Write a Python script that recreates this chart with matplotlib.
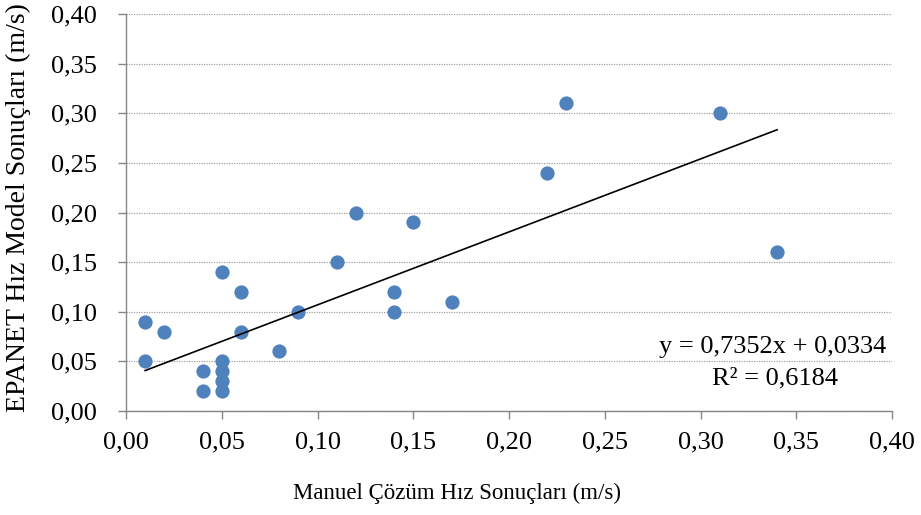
import matplotlib
matplotlib.use("Agg")
import matplotlib.pyplot as plt
import numpy as np
from matplotlib.ticker import FuncFormatter

manuel = [0.01, 0.01, 0.02, 0.04, 0.04, 0.05, 0.05, 0.05, 0.05, 0.05, 0.06, 0.06,
          0.08, 0.09, 0.11, 0.12, 0.14, 0.14, 0.15, 0.17, 0.22, 0.23, 0.31, 0.34]
epanet = [0.09, 0.05, 0.08, 0.04, 0.02, 0.14, 0.05, 0.04, 0.03, 0.02, 0.12, 0.08,
          0.06, 0.10, 0.15, 0.20, 0.12, 0.10, 0.19, 0.11, 0.24, 0.31, 0.30, 0.16]
slope = 0.7352
intercept = 0.0334
r2_text = "R² = 0,6184"
eq_text = "y = 0,7352x + 0,0334"
xlabel = "Manuel Çözüm Hız Sonuçları (m/s)"
ylabel = "EPANET Hız Model Sonuçları (m/s)"

plt.rcParams['font.family'] = ['Liberation Serif', 'DejaVu Serif']

W, H = 921, 515
fig = plt.figure(figsize=(9.21, 5.15), dpi=100)
ax = fig.add_axes([126 / W, 1 - 411 / H, 766 / W, 397 / H])

ax.scatter(manuel, epanet, s=105, color='#4F81BD', zorder=3, linewidths=0)
xs = np.array([min(manuel), max(manuel)])
ax.plot(xs, slope * xs + intercept, color='black', lw=1.2, zorder=4)

ax.set_xlim(0, 0.40)
ax.set_ylim(0, 0.40)
ticks = np.arange(0, 0.401, 0.05)
ax.set_xticks(ticks)
ax.set_yticks(ticks)
fmt = FuncFormatter(lambda v, p: f"{v:.2f}".replace('.', ','))
ax.xaxis.set_major_formatter(fmt)
ax.yaxis.set_major_formatter(fmt)
ax.tick_params(labelsize=19, color='#868686', length=6, width=1)
ax.tick_params(axis='x', pad=9)
ax.tick_params(axis='y', pad=15)
ax.grid(axis='y', color='#A0A0A0', linestyle=(0, (1, 1)), lw=0.9)
ax.set_axisbelow(True)
for s in ['top', 'right']:
    ax.spines[s].set_visible(False)
for s in ['left', 'bottom']:
    ax.spines[s].set_color('#868686')
    ax.spines[s].set_linewidth(1)

fig.text(457 / W, 1 - 493 / H, xlabel, fontsize=16.5, ha='center', va='center')
fig.text(18 / W, 1 - 208 / H, ylabel, fontsize=20, rotation=90, ha='center', va='center')

ax.text(0.397, 0.0645, eq_text, fontsize=19, ha='right', va='center')
ax.text(0.372, 0.033, r2_text, fontsize=19, ha='right', va='center')

fig.savefig("out.png", dpi=100)
